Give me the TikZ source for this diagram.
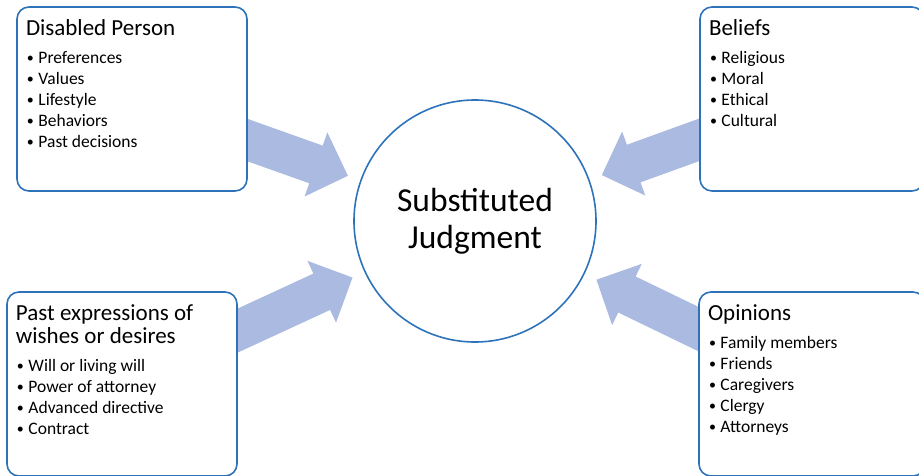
\documentclass[tikz,border=0pt]{standalone}
\usepackage{fontspec}
\setmainfont{Carlito}
\usepackage{xcolor}
\usepackage{tikz}
\usetikzlibrary{arrows.meta,positioning,backgrounds}

\definecolor{boxblue}{HTML}{2E73BA}
\definecolor{arrowblue}{HTML}{AABAE0}

\newcommand{\boxhead}[1]{{\fontsize{23}{23}\selectfont #1\par}\vspace{7pt}}
\newcommand{\bitem}[1]{{\fontsize{17.5}{21}\selectfont\hspace*{1pt}\raisebox{1.5pt}{\fontsize{14}{14}\selectfont\textbullet}\hspace{4.5pt}#1\par}}

\tikzset{
  infobox/.style={draw=boxblue, line width=1.6pt, rounded corners=12pt, fill=white,
    inner xsep=9pt, inner ysep=13pt, minimum height=184pt},
  bigarrow/.style={draw=arrowblue, line width=40pt,
    -{Triangle[width=66pt,length=34pt]}, shorten >=13pt},
}

\begin{document}
\begin{tikzpicture}[x=1pt,y=-1pt]
\useasboundingbox (0,0) rectangle (919,475);

% Center
\node[circle, draw=boxblue, line width=1.6pt, fill=white, minimum size=242pt,
  align=center, font=\fontsize{33.5}{37}\selectfont] (sj) at (475,221)
  {Substituted\\Judgment};

% Boxes
\node[infobox, minimum width=230pt] (person) at (132,99) {\parbox[t][158pt][t]{212pt}{%
  \boxhead{Disabled Person}
  \bitem{Preferences}\bitem{Values}\bitem{Lifestyle}\bitem{Behaviors}\bitem{Past decisions}}};
\node[infobox, minimum width=224pt] (beliefs) at (812,99) {\parbox[t][158pt][t]{206pt}{%
  \boxhead{Beliefs}
  \bitem{Religious}\bitem{Moral}\bitem{Ethical}\bitem{Cultural}}};
\node[infobox, minimum width=230pt] (wishes) at (122,384) {\parbox[t][158pt][t]{212pt}{%
  \boxhead{Past expressions of\\wishes or desires}
  \bitem{Will or living will}\bitem{Power of attorney}\bitem{Advanced directive}\bitem{Contract}}};
\node[infobox, minimum width=226pt] (opinions) at (812,384) {\parbox[t][158pt][t]{208pt}{%
  \boxhead{Opinions}
  \bitem{Family members}\bitem{Friends}\bitem{Caregivers}\bitem{Clergy}\bitem{Attorneys}}};

% Arrows into the center
\begin{scope}[on background layer]
\draw[bigarrow] (person.center) -- (sj);
\draw[bigarrow] (beliefs.center) -- (sj);
\draw[bigarrow] (wishes.center) -- (sj);
\draw[bigarrow] (opinions.center) -- (sj);
\end{scope}

\end{tikzpicture}
\end{document}
